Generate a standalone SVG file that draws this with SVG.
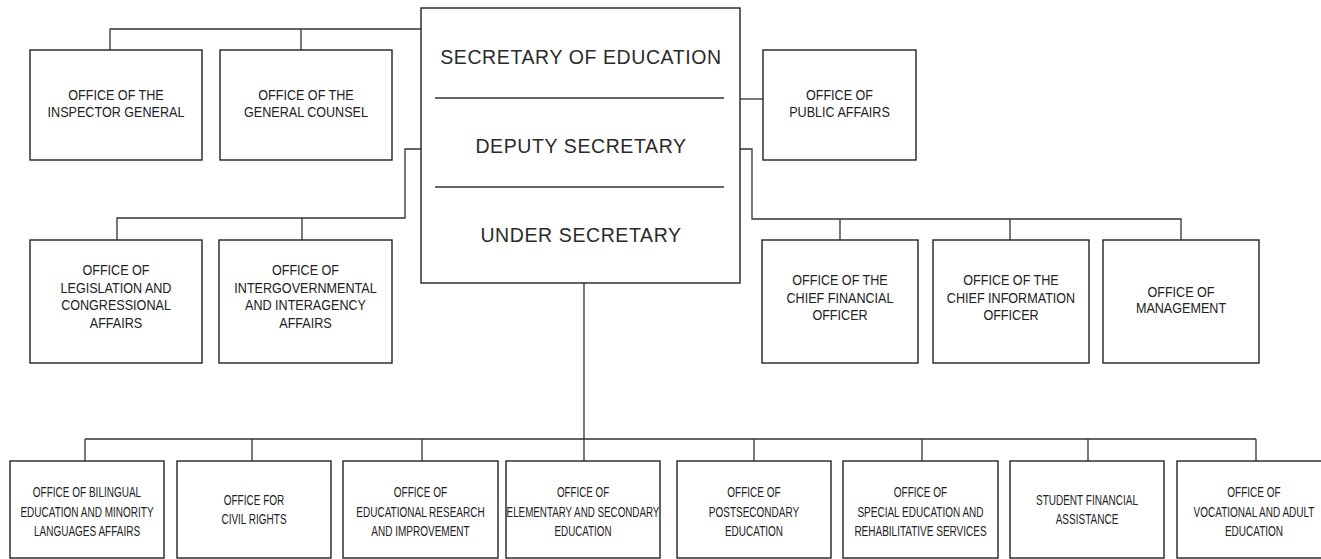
<svg xmlns="http://www.w3.org/2000/svg" width="1321" height="559" viewBox="0 0 1321 559">
<style>
.box{fill:#fff;stroke:#222;stroke-width:1.4}
.con{fill:none;stroke:#333;stroke-width:1.3}
.div{stroke:#333;stroke-width:1.3}
.t{font-family:"Liberation Sans",Arial,sans-serif;font-size:14px;fill:#222;text-anchor:middle}
.big{font-family:"Liberation Sans",Arial,sans-serif;font-size:19.5px;letter-spacing:0.6px;fill:#2a2a2a;text-anchor:middle}
</style>
<rect width="1321" height="559" fill="#fff"/>
<g id="connectors">
<path class="con" d="M421,29 H110 V50 M301,29 V50"/>
<path class="con" d="M421,149 H405 V218 H117 V240 M302,218 V240"/>
<path class="con" d="M740,99 H763"/>
<path class="con" d="M740,149 H752 V219 H1181 V240 M840,219 V240 M1010,219 V240"/>
<path class="con" d="M584,283 V461 M85,439 H1256 M85,439 V461 M252,439 V461 M422,439 V461 M754,439 V461 M922,439 V461 M1088,439 V461 M1256,439 V461"/>
</g>
<g id="secretary">
<rect class="box" x="421" y="8" width="319" height="275"/>
<line class="div" x1="435" y1="98" x2="724" y2="98"/>
<line class="div" x1="435" y1="187" x2="724" y2="187"/>
<text class="big" x="581" y="64">SECRETARY OF EDUCATION</text>
<text class="big" x="581" y="153">DEPUTY SECRETARY</text>
<text class="big" x="581" y="242">UNDER SECRETARY</text>
</g>
<g id="inspector-general">
<rect class="box" x="30" y="50" width="172" height="110"/>
<text class="t" transform="translate(116,0) scale(0.9,1)"><tspan x="0" y="100.5">OFFICE OF THE</tspan><tspan x="0" y="117.5">INSPECTOR GENERAL</tspan></text>
</g>
<g id="general-counsel">
<rect class="box" x="220" y="50" width="172" height="110"/>
<text class="t" transform="translate(306,0) scale(0.9,1)"><tspan x="0" y="100.5">OFFICE OF THE</tspan><tspan x="0" y="117.5">GENERAL COUNSEL</tspan></text>
</g>
<g id="public-affairs">
<rect class="box" x="763" y="50" width="153" height="110"/>
<text class="t" transform="translate(839.5,0) scale(0.9,1)"><tspan x="0" y="100.5">OFFICE OF</tspan><tspan x="0" y="117.5">PUBLIC AFFAIRS</tspan></text>
</g>
<g id="legislation">
<rect class="box" x="30" y="240" width="172" height="123"/>
<text class="t" transform="translate(116,0) scale(0.9,1)"><tspan x="0" y="275">OFFICE OF</tspan><tspan x="0" y="292.7">LEGISLATION AND</tspan><tspan x="0" y="310.4">CONGRESSIONAL</tspan><tspan x="0" y="328">AFFAIRS</tspan></text>
</g>
<g id="intergovernmental">
<rect class="box" x="219" y="240" width="173" height="123"/>
<text class="t" transform="translate(305.5,0) scale(0.9,1)"><tspan x="0" y="275">OFFICE OF</tspan><tspan x="0" y="292.7">INTERGOVERNMENTAL</tspan><tspan x="0" y="310.4">AND INTERAGENCY</tspan><tspan x="0" y="328">AFFAIRS</tspan></text>
</g>
<g id="cfo">
<rect class="box" x="762" y="240" width="156" height="123"/>
<text class="t" transform="translate(840,0) scale(0.9,1)"><tspan x="0" y="285">OFFICE OF THE</tspan><tspan x="0" y="302.7">CHIEF FINANCIAL</tspan><tspan x="0" y="320.4">OFFICER</tspan></text>
</g>
<g id="cio">
<rect class="box" x="933" y="240" width="156" height="123"/>
<text class="t" transform="translate(1011,0) scale(0.9,1)"><tspan x="0" y="285">OFFICE OF THE</tspan><tspan x="0" y="302.7">CHIEF INFORMATION</tspan><tspan x="0" y="320.4">OFFICER</tspan></text>
</g>
<g id="management">
<rect class="box" x="1103" y="240" width="156" height="123"/>
<text class="t" transform="translate(1181,0) scale(0.9,1)"><tspan x="0" y="296.7">OFFICE OF</tspan><tspan x="0" y="313.5">MANAGEMENT</tspan></text>
</g>
<g id="bilingual">
<rect class="box" x="10" y="461" width="154" height="97"/>
<text class="t" transform="translate(87,0) scale(0.715,1)"><tspan x="0" y="497">OFFICE OF BILINGUAL</tspan><tspan x="0" y="516.7">EDUCATION AND MINORITY</tspan><tspan x="0" y="536.4">LANGUAGES AFFAIRS</tspan></text>
</g>
<g id="civil-rights">
<rect class="box" x="177" y="461" width="154" height="97"/>
<text class="t" transform="translate(254,0) scale(0.715,1)"><tspan x="0" y="505">OFFICE FOR</tspan><tspan x="0" y="524.5">CIVIL RIGHTS</tspan></text>
</g>
<g id="research">
<rect class="box" x="343" y="461" width="155" height="97"/>
<text class="t" transform="translate(420.5,0) scale(0.715,1)"><tspan x="0" y="497">OFFICE OF</tspan><tspan x="0" y="516.7">EDUCATIONAL RESEARCH</tspan><tspan x="0" y="536.4">AND IMPROVEMENT</tspan></text>
</g>
<g id="elementary">
<rect class="box" x="506" y="461" width="154" height="97"/>
<text class="t" transform="translate(583,0) scale(0.7,1)"><tspan x="0" y="497">OFFICE OF</tspan><tspan x="0" y="516.7">ELEMENTARY AND SECONDARY</tspan><tspan x="0" y="536.4">EDUCATION</tspan></text>
</g>
<g id="postsecondary">
<rect class="box" x="677" y="461" width="154" height="97"/>
<text class="t" transform="translate(754,0) scale(0.715,1)"><tspan x="0" y="497">OFFICE OF</tspan><tspan x="0" y="516.7">POSTSECONDARY</tspan><tspan x="0" y="536.4">EDUCATION</tspan></text>
</g>
<g id="special-education">
<rect class="box" x="843" y="461" width="155" height="97"/>
<text class="t" transform="translate(920.5,0) scale(0.715,1)"><tspan x="0" y="497">OFFICE OF</tspan><tspan x="0" y="516.7">SPECIAL EDUCATION AND</tspan><tspan x="0" y="536.4">REHABILITATIVE SERVICES</tspan></text>
</g>
<g id="student-financial">
<rect class="box" x="1010" y="461" width="154" height="97"/>
<text class="t" transform="translate(1087,0) scale(0.715,1)"><tspan x="0" y="505">STUDENT FINANCIAL</tspan><tspan x="0" y="524.5">ASSISTANCE</tspan></text>
</g>
<g id="vocational">
<rect class="box" x="1177" y="461" width="154" height="97"/>
<text class="t" transform="translate(1254,0) scale(0.715,1)"><tspan x="0" y="497">OFFICE OF</tspan><tspan x="0" y="516.7">VOCATIONAL AND ADULT</tspan><tspan x="0" y="536.4">EDUCATION</tspan></text>
</g>
</svg>
